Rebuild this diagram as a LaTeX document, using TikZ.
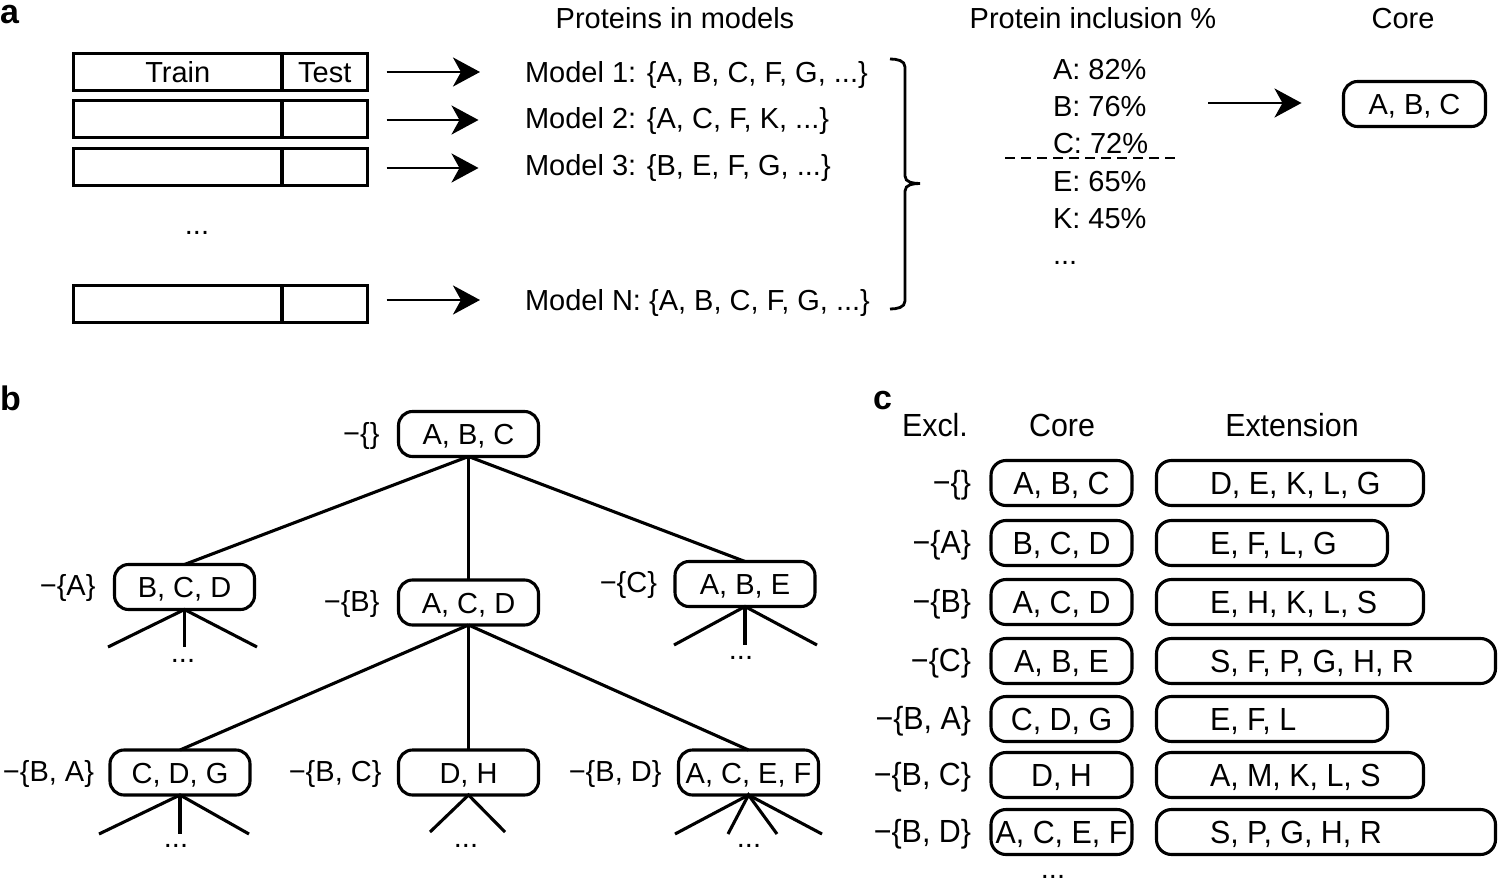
\documentclass[tikz,border=0pt]{standalone}
\usepackage{fontspec}
\setmainfont{Liberation Sans}
\newfontfamily\condfont[FakeStretch=0.95]{Liberation Sans}
\usetikzlibrary{arrows.meta,calc}
\begin{document}
\begin{tikzpicture}[x=1pt,y=-1pt,
  every node/.style={inner sep=0pt, outer sep=0pt},
  txt/.style={font=\fontsize{29}{34}\selectfont, text height=21pt, text depth=0pt},
  ctxt/.style={font=\condfont\fontsize{32}{38}\selectfont, text height=23pt, text depth=0pt},
  panel/.style={font=\bfseries\fontsize{34}{40}\selectfont, anchor=base west},
  ln/.style={line width=3.1pt},
  arr/.style={line width=2.8pt, -{Stealth[length=27pt,width=29pt,inset=8pt]}},
  cell/.style={txt, draw, line width=3.1pt, minimum height=37pt},
  rbox/.style={txt, draw, line width=3.1pt, rounded corners=14pt, minimum width=140pt, minimum height=45pt},
  crbox/.style={ctxt, draw, line width=3.1pt, rounded corners=15pt, minimum height=45pt},
  dots/.style={txt, anchor=base},
  lab/.style={txt, anchor=east},
  clab/.style={ctxt, anchor=east},
  ext/.style={ctxt, draw, line width=3.1pt, rounded corners=15pt, minimum height=45pt, anchor=west}
]
\useasboundingbox (0,0) rectangle (1499,883);

% ---------------- panel a ----------------
\node[panel] (pa) at (0,24) {a};

\node[cell, minimum width=208.5pt] (tr1) at (177.75,72) {Train};
\node[cell, minimum width=85.5pt]  (te1) at (324.75,72) {Test};
\node[cell, minimum width=208.5pt] (tr2) at (177.75,119) {};
\node[cell, minimum width=85.5pt]  (te2) at (324.75,119) {};
\node[cell, minimum width=208.5pt] (tr3) at (177.75,167) {};
\node[cell, minimum width=85.5pt]  (te3) at (324.75,167) {};
\node[dots] (adots) at (197,234) {...};
\node[cell, minimum width=208.5pt] (trn) at (177.75,304) {};
\node[cell, minimum width=85.5pt]  (ten) at (324.75,304) {};

\node[txt] (hprot) at (675,18) {Proteins in models};
\node[txt] (hincl) at (1093,18) {Protein inclusion \%};
\node[txt] (hcore) at (1403,18) {Core};

\node[txt, anchor=west] (m1) at (525,72) {Model 1: \{A, B, C, F, G, ...\}};
\node[txt, anchor=west] (m2) at (525,118) {Model 2: \{A, C, F, K, ...\}};
\node[txt, anchor=west] (m3) at (525,165) {Model 3: \{B, E, F, G, ...\}};
\node[txt, anchor=west] (mn) at (525,300) {Model N: \{A, B, C, F, G, ...\}};

\draw[arr] ($(te1.east |- m1.west)+(19,0)$) -- ($(m1.west)+(-45,0)$);
\draw[arr] ($(te2.east)+(19,1)$) -- ($(te2.east)+(111,1)$);
\draw[arr] ($(te3.east)+(19,1)$) -- ($(te3.east)+(111,1)$);
\draw[arr] ($(ten.east |- mn.west)+(19,0)$) -- ($(mn.west)+(-45,0)$);

% brace
\draw[line width=2.8pt] (890,59) to[out=0,in=90] (905,67) -- (905,176)
  to[out=-90,in=180] (920,183.5) to[out=180,in=90] (905,191) -- (905,301)
  to[out=-90,in=0] (890,309);

\node[txt, anchor=west] (pA) at (1053,69) {A: 82\%};
\node[txt, anchor=west] (pB) at (1053,106) {B: 76\%};
\node[txt, anchor=west] (pC) at (1053,143) {C: 72\%};
\node[txt, anchor=west] (pE) at (1053,181) {E: 65\%};
\node[txt, anchor=west] (pK) at (1053,218) {K: 45\%};
\node[txt, anchor=base west] (pdots) at (1053,264) {...};
\coordinate (dl) at (1005,158);
\coordinate (dr) at (1178,158);
\draw[line width=2.8pt, dash pattern=on 10pt off 6pt] (dl) -- (dr);

\node[rbox, minimum width=142pt] (core) at (1414.5,104) {A, B, C};
\coordinate (incl) at (1208,103);
\draw[arr] (incl) -- ($(core.west |- incl)+(-42,0)$);

% ---------------- panel b ----------------
\node[panel] (pb) at (0,410) {b};

\node[rbox] (root) at (468.5,434) {A, B, C};
\node[rbox] (bcd)  at (184.5,587) {B, C, D};
\node[rbox] (acd)  at (468.5,602.5) {A, C, D};
\node[rbox] (abe)  at (745,584) {A, B, E};
\node[rbox] (cdg)  at (180,772.5) {C, D, G};
\node[rbox] (dh)   at (468.5,772.5) {D, H};
\node[rbox] (acef) at (748.5,772.5) {A, C, E, F};

\node[lab] (lroot) at ($(root.west)+(-19,-1)$) {−\{\}};
\node[lab] (lbcd)  at ($(bcd.west)+(-19,-2)$) {−\{A\}};
\node[lab] (lacd)  at ($(acd.west)+(-19,-2)$) {−\{B\}};
\node[lab] (labe)  at ($(abe.west)+(-18,-2)$) {−\{C\}};
\node[lab] (lcdg)  at ($(cdg.west)+(-16,-2)$) {−\{B, A\}};
\node[lab] (ldh)   at ($(dh.west)+(-17,-2)$) {−\{B, C\}};
\node[lab] (lacef) at ($(acef.west)+(-17,-2)$) {−\{B, D\}};

\draw[ln] (root.south) -- (bcd.north);
\draw[ln] (root.south) -- (acd.north);
\draw[ln] (root.south) -- (abe.north);
\draw[ln] (acd.south) -- (cdg.north);
\draw[ln] (acd.south) -- (dh.north);
\draw[ln] (acd.south) -- (acef.north);

% stubs
\coordinate (b1) at (108,647); \coordinate (b2) at (184.5,647); \coordinate (b3) at (257,647);
\draw[ln] (b1) -- (bcd.south) -- (b3); \draw[ln] (bcd.south) -- (b2);
\node[dots] (bdots) at (183,662) {...};

\coordinate (e1) at (674,645); \coordinate (e2) at (745,645); \coordinate (e3) at (817,645);
\draw[ln] (e1) -- (abe.south) -- (e3); \draw[ln] (abe.south) -- (e2);
\node[dots] (edots) at (741,659) {...};

\coordinate (g1) at (99,834); \coordinate (g2) at (180,834); \coordinate (g3) at (249,834);
\draw[ln] (g1) -- (cdg.south) -- (g3); \draw[ln] (cdg.south) -- (g2);
\node[dots] (gdots) at (176,847) {...};

\coordinate (h1) at (430,832); \coordinate (h2) at (505,832);
\draw[ln] (h1) -- (dh.south) -- (h2);
\node[dots] (hdots) at (466,847) {...};

\coordinate (f1) at (675,834); \coordinate (f2) at (728,834); \coordinate (f3) at (777,834); \coordinate (f4) at (822,834);
\draw[ln] (f1) -- (acef.south) -- (f4);
\draw[ln] (f2) -- (acef.south) -- (f3);
\node[dots] (fdots) at (749,847) {...};

% ---------------- panel c ----------------
\node[panel] (pc) at (873,409) {c};
\node[ctxt] (hexcl) at (935,425) {Excl.};
\node[ctxt] (hccore) at (1062,425) {Core};
\node[ctxt] (hext) at (1292,425) {Extension};

\foreach \y/\ex/\co/\ext/\w [count=\i] in {
  483/{−\{\}}/{A, B, C}/{D, E, K, L, G}/267,
  543/{−\{A\}}/{B, C, D}/{E, F, L, G}/231,
  602/{−\{B\}}/{A, C, D}/{E, H, K, L, S}/267,
  661/{−\{C\}}/{A, B, E}/{S, F, P, G, H, R}/339,
  719/{−\{B, A\}}/{C, D, G}/{E, F, L}/231,
  775/{−\{B, C\}}/{D, H}/{A, M, K, L, S}/267,
  832/{−\{B, D\}}/{A, C, E, F}/{S, P, G, H, R}/339}{
  \node[clab] (cl\i) at (971,\y-1) {\ex};
  \node[crbox, minimum width=141pt] (cc\i) at (1061.5,\y) {\co};
  \node[ext] (ce\i) at (1156.5,\y) {\makebox[\w pt][l]{\hspace{53.5pt}\ext}};
}
\node[dots] (cdots) at (1053,878) {...};
\end{tikzpicture}
\end{document}
